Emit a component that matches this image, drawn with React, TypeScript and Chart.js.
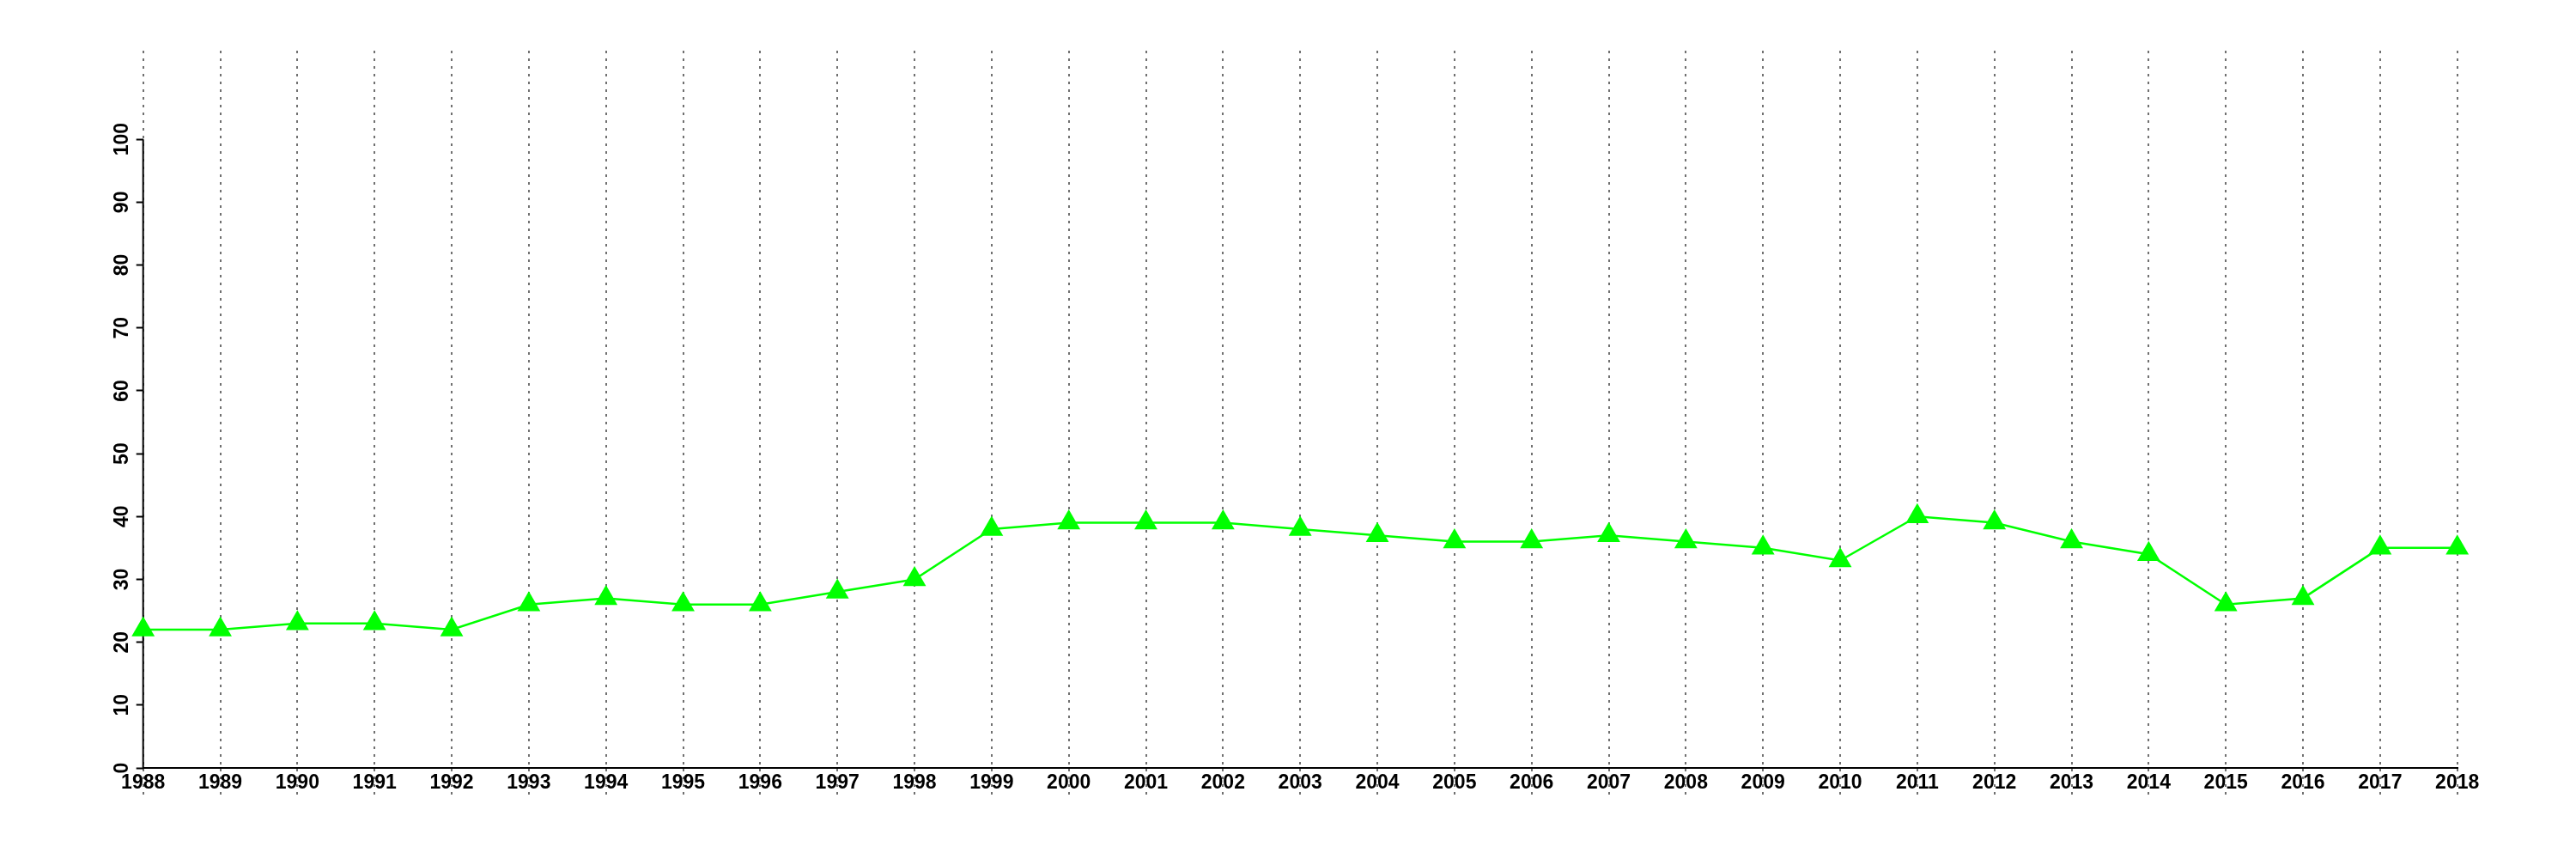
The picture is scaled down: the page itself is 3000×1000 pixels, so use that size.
import React, { useEffect, useRef } from "react";
import { Chart, registerables } from "chart.js";

Chart.register(...registerables);

const years: string[] = [
  "1988", "1989", "1990", "1991", "1992", "1993", "1994", "1995", "1996", "1997",
  "1998", "1999", "2000", "2001", "2002", "2003", "2004", "2005", "2006", "2007",
  "2008", "2009", "2010", "2011", "2012", "2013", "2014", "2015", "2016", "2017", "2018",
];

const values: number[] = [
  22, 22, 23, 23, 22, 26, 27, 26, 26, 28,
  30, 38, 39, 39, 39, 38, 37, 36, 36, 37,
  36, 35, 33, 40, 39, 36, 34, 26, 27, 35, 35,
];

const yTickValues: number[] = [0, 10, 20, 30, 40, 50, 60, 70, 80, 90, 100];

const FONT = "'Liberation Sans', Arial, Helvetica, sans-serif";

const yAxisLinePlugin = {
  id: "yAxisLine",
  beforeDatasetsDraw(chart: any) {
    const y = chart.scales.y;
    const left = chart.chartArea.left;
    const ctx = chart.ctx;
    ctx.save();
    ctx.strokeStyle = "#000000";
    ctx.lineWidth = 2;
    ctx.setLineDash([]);
    ctx.beginPath();
    ctx.moveTo(left, y.getPixelForValue(yTickValues[yTickValues.length - 1]));
    ctx.lineTo(left, y.getPixelForValue(yTickValues[0]));
    ctx.stroke();
    ctx.restore();
  },
};

export default function App() {
  const canvasRef = useRef<HTMLCanvasElement | null>(null);

  useEffect(() => {
    const canvas = canvasRef.current;
    if (!canvas) return;
    const chart = new Chart(canvas, {
      type: "line",
      data: {
        labels: years,
        datasets: [
          {
            data: values,
            borderColor: "#00ff00",
            backgroundColor: "#00ff00",
            borderWidth: 2.5,
            pointStyle: "triangle",
            pointRadius: 15.5,
            pointHoverRadius: 15.5,
            pointBorderWidth: 0,
            pointBackgroundColor: "#00ff00",
            tension: 0,
            clip: false as any,
          },
        ],
      },
      options: {
        animation: false,
        responsive: false,
        devicePixelRatio: 1,
        layout: { padding: { left: 0, top: 59, right: 138.3, bottom: 0 } },
        plugins: {
          legend: { display: false },
          tooltip: { enabled: false },
          title: { display: false },
        },
        scales: {
          x: {
            type: "category",
            offset: false,
            grid: {
              display: true,
              drawOnChartArea: true,
              drawTicks: true,
              color: "#707070",
              lineWidth: 2,
              tickLength: 33,
              tickColor: "#707070",
              tickWidth: 2,
              tickBorderDash: [3, 6],
            } as any,
            border: { display: true, color: "#000000", width: 2, dash: [3, 6] } as any,
            ticks: {
              autoSkip: false,
              maxRotation: 0,
              minRotation: 0,
              padding: -29,
              color: "#000000",
              font: { family: FONT, size: 23, weight: "bold" },
            },
            afterFit(scale: any) {
              scale.height = 106;
            },
          },
          y: {
            type: "linear",
            min: 0,
            max: 114.1,
            grid: {
              display: true,
              drawOnChartArea: false,
              drawTicks: true,
              tickLength: 8,
              tickColor: "#000000",
              tickWidth: 2,
            },
            border: { display: false },
            ticks: {
              minRotation: 90,
              maxRotation: 90,
              crossAlign: "center",
              padding: -3,
              color: "#000000",
              font: { family: FONT, size: 23, weight: "bold" },
            },
            afterBuildTicks(scale: any) {
              scale.ticks = yTickValues.map((v) => ({ value: v }));
            },
            afterFit(scale: any) {
              scale.width = 166.7;
            },
          },
        },
      },
      plugins: [yAxisLinePlugin],
    });
    return () => {
      chart.destroy();
    };
  }, []);

  return (
    <div style={{ position: "absolute", left: 0, top: 0, width: 3000, height: 1000, background: "#ffffff" }}>
      <canvas ref={canvasRef} width={3000} height={1000} style={{ display: "block", width: 3000, height: 1000 }} />
    </div>
  );
}
